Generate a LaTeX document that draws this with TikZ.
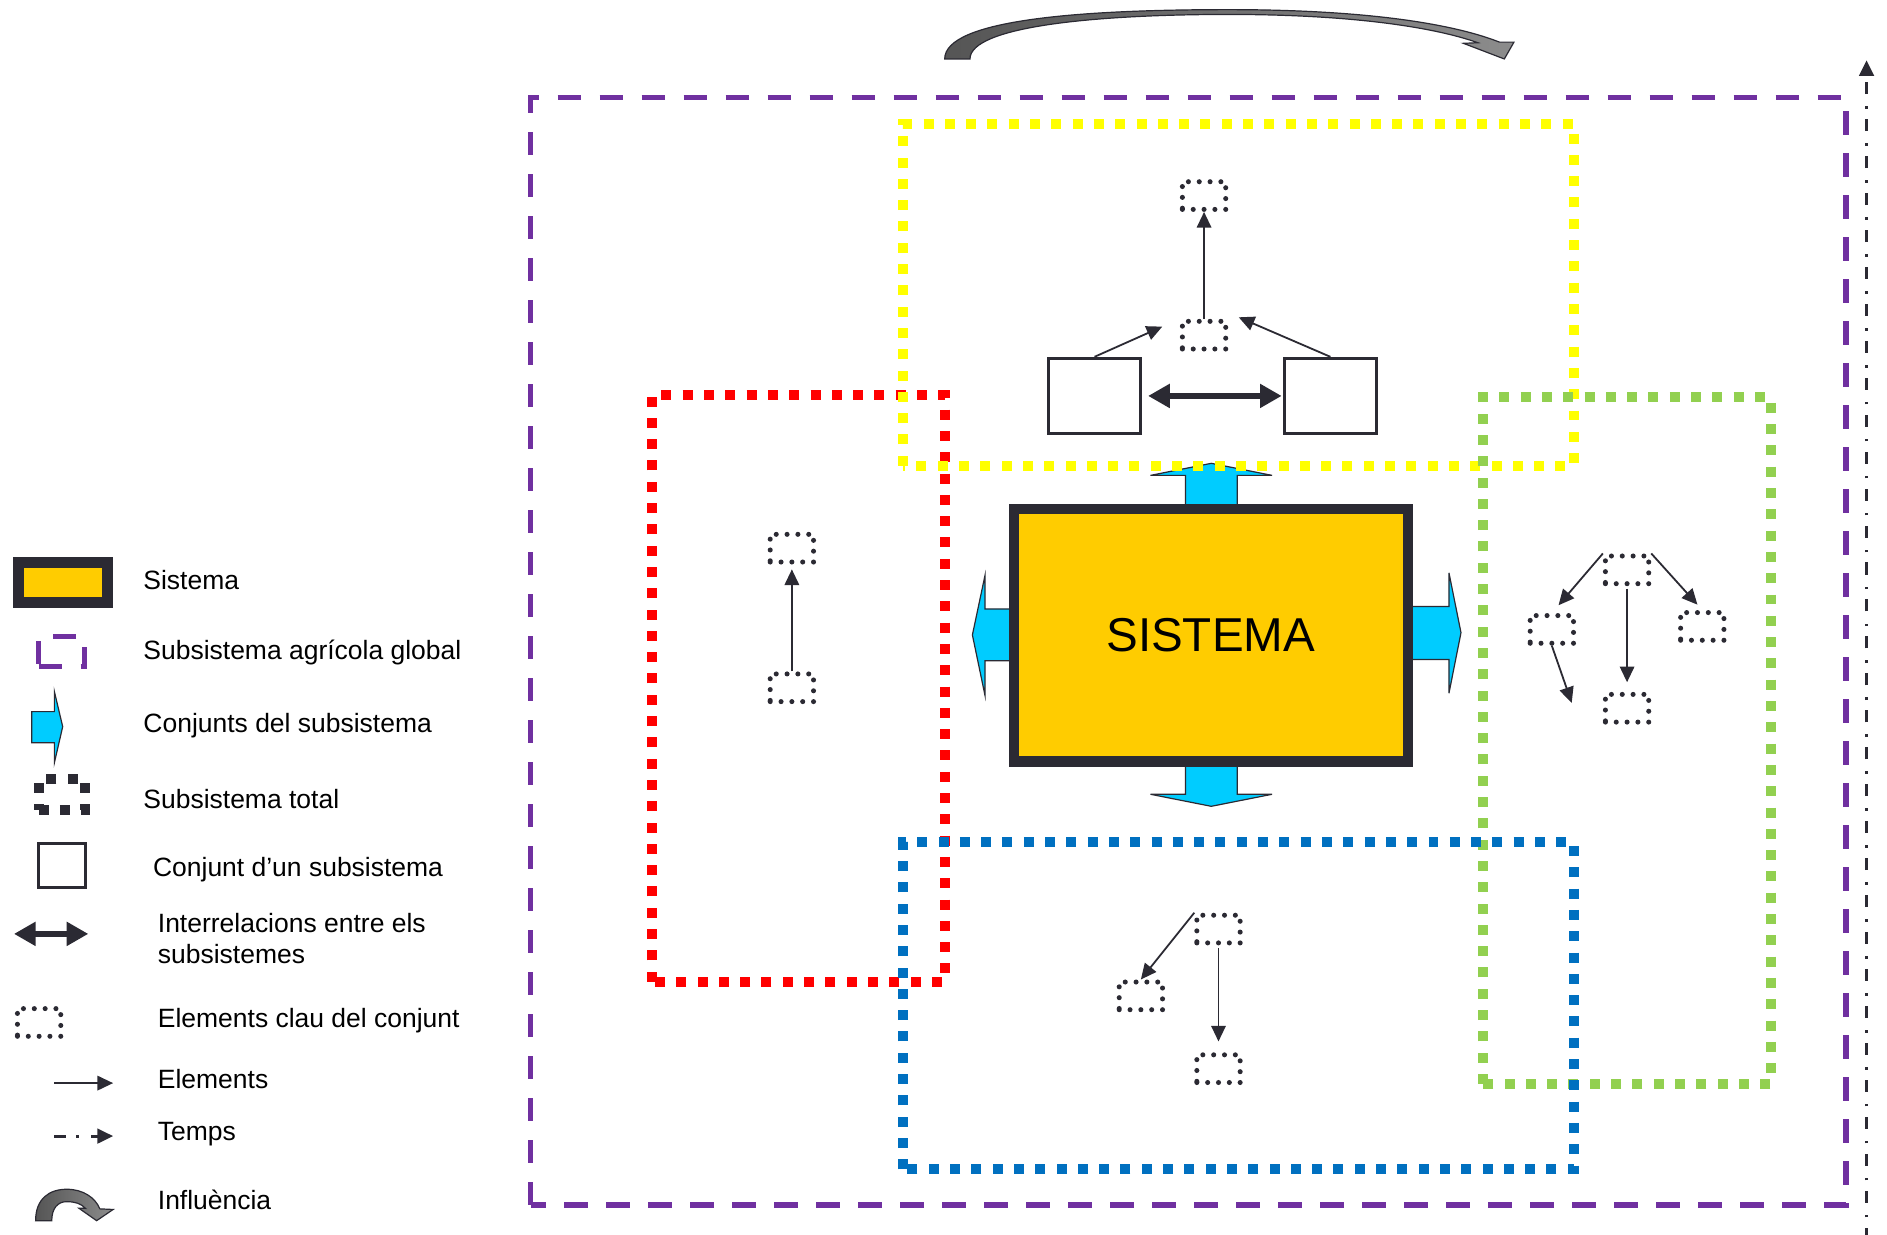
\documentclass[tikz,border=0pt]{standalone}
\usepackage{fontspec}
\setmainfont{Liberation Sans}
\usetikzlibrary{arrows.meta}

\definecolor{sistemagold}{HTML}{FFCC00}
\definecolor{darkline}{HTML}{2B2A33}
\definecolor{globalpurple}{HTML}{7030A0}
\definecolor{conjcyan}{HTML}{00CCFF}
\definecolor{subyellow}{HTML}{FFFF00}
\definecolor{subred}{HTML}{FF0000}
\definecolor{subgreen}{HTML}{92D050}
\definecolor{subblue}{HTML}{0070C0}
\definecolor{infdark}{HTML}{555555}
\definecolor{inflight}{HTML}{8C8C8C}

\begin{document}
\begin{tikzpicture}[
            x=1pt, y=-1pt,
            element/.style={draw=darkline, line width=4.2pt, dash pattern=on 0pt off 9pt, line cap=round, minimum width=36pt, minimum height=23pt, inner sep=0pt},
            conjunt/.style={draw=darkline, line width=2.5pt, minimum width=76.5pt, minimum height=62.5pt, inner sep=0pt},
            sistema/.style={draw=darkline, fill=sistemagold, line width=8.5pt, minimum width=327.5pt, minimum height=209.5pt, inner sep=0pt, font=\fontsize{39.5}{44}\selectfont},
            label_right/.style={anchor=base west, inner sep=0pt, font=\fontsize{22}{26}\selectfont},
            subsist/.style={line width=8.3pt, dash pattern=on 8.3pt off 9.4pt},
            global/.style={draw=globalpurple, line width=4.4pt, dash pattern=on 19.4pt off 15.5pt},
            link/.style={draw=darkline, line width=1.5pt, -{Triangle[length=13pt,width=12pt]}},
            interrel/.style={draw=darkline, line width=5.5pt, {Triangle[length=18pt,width=19pt]}-{Triangle[length=18pt,width=19pt]}},
            temps/.style={draw=darkline, line width=2.6pt, dash pattern=on 10pt off 8.5pt on 2.2pt off 10pt, -{Triangle[length=13pt,width=12pt]}},
            conjunts/.style={fill=conjcyan, draw=darkline, line width=1pt},
            influence/.style={left color=infdark, right color=inflight, draw=darkline, line width=1pt}
        ]
        \useasboundingbox (0,0) rectangle (1568,1025.4);

        % Global agricultural subsystem
        \draw[global] (441,1001.2) rectangle (1534,81.2);

        % Influence and time
        \draw[influence] (785,49) .. controls (785,16) and (900,8) .. (1021,8)
            .. controls (1120,8) and (1200,17) .. (1246,35) -- (1258,35) -- (1250,49) -- (1216,36) -- (1228,35.5)
            .. controls (1190,22) and (1120,12) .. (1021,12)
            .. controls (910,12) and (806,22) .. (806,49) -- cycle;
        \coordinate (time_start) at (1551,1030);
        \coordinate (time_end) at (1551,50);
        \draw[temps] (time_start) -- (time_end);

        % System with its sets
        \draw[conjunts] (985,423) -- (985,395) -- (956,395) -- (1006.5,385) -- (1057,395) -- (1028,395) -- (1028,423) -- cycle;
        \draw[conjunts] (985,633) -- (985,660) -- (956,660) -- (1006.5,670) -- (1057,660) -- (1028,660) -- (1028,633) -- cycle;
        \draw[conjunts] (846,506) -- (818.5,506) -- (818.5,478) -- (808,527.6) -- (818.5,578) -- (818.5,549) -- (846,549) -- cycle;
        \draw[conjunts] (1170,504) -- (1204,504) -- (1204,476) -- (1214,525.7) -- (1204,576) -- (1204,548) -- (1170,548) -- cycle;
        \node[sistema] (sistema) at (1006,528) {SISTEMA};

        % Subsystems
        \draw[subsist, draw=subred] (541.5,815.7) rectangle (785.2,328.2);
        \draw[subsist, draw=subyellow] (750.6,387) rectangle (1308,102.9);
        \draw[subsist, draw=subgreen] (1232.5,900.7) rectangle (1471.3,330);
        \draw[subsist, draw=subblue] (750.6,971.6) rectangle (1307.9,700);

        % Top subsystem
        \node[element] (ey1) at (1000.5,162.5) {};
        \node[element] (ey2) at (1000.5,278.5) {};
        \node[conjunt] (sq1) at (909.5,329) {};
        \node[conjunt] (sq2) at (1105.5,329) {};

        \draw[link] (ey2.north) -- (ey1.south);
        \draw[link, shorten >=16pt] (sq1.north) -- (ey2.north west);
        \draw[link, shorten >=9.5pt] (sq2.north) -- ([yshift=5pt]ey2.north east);
        \draw[interrel, shorten <=5pt, shorten >=1pt] (sq1.east) -- (sq2.west);

        % Left subsystem
        \node[element] (er1) at (658,455.5) {};
        \node[element] (er2) at (658,571.5) {};

        \draw[link, shorten >=4pt] (er2.north) -- (er1.south);

        % Right subsystem
        \node[element] (eg1) at (1352,473.5) {};
        \node[element] (eg2) at (1289.5,523) {};
        \node[element] (eg3) at (1414.5,520.5) {};
        \node[element] (eg4) at (1352,588.5) {};
        \coordinate (eg_free) at (1306,584);

        \draw[link, shorten >=8.5pt] (eg1.north west) -- (eg2.north);
        \draw[link, shorten >=6pt] (eg1.north east) -- (eg3.north);
        \draw[link, shorten <=2pt, shorten >=8pt] (eg1.south) -- (eg4.north);
        \draw[link] (eg2.south) -- (eg_free);

        % Bottom subsystem
        \node[element] (eb1) at (1012.5,772) {};
        \node[element] (eb2) at (948,827.5) {};
        \node[element] (eb3) at (1012.5,888) {};

        \draw[link] (eb1.north west) -- (eb2.north);
        \draw[link, shorten <=2pt, shorten >=9pt] (eb1.south) -- (eb3.north);

        % Legend
        \node[draw=darkline, fill=sistemagold, line width=9pt, minimum width=74pt, minimum height=33pt, inner sep=0pt] (leg_sistema) at (52.5,484) {};
        \node[label_right] (leg_sistema_txt) at (119,490.2) {Sistema};

        \node[global, minimum width=38pt, minimum height=25pt, inner sep=0pt] (leg_global) at (51,541.5) {};
        \node[label_right] (leg_global_txt) at (119,548.4) {Subsistema agrícola global};

        \draw[conjunts] (26.3,591.3) -- (45.2,591.3) -- (45.2,574.7) -- (52.1,603.8) -- (45.2,633.7) -- (45.2,617.1) -- (26.3,617.1) -- cycle;
        \node[label_right] (leg_conjunts_txt) at (119,608.8) {Conjunts del subsistema};

        \node[subsist, draw=darkline, minimum width=38.7pt, minimum height=25.7pt, inner sep=0pt] (leg_total) at (51.5,660.3) {};
        \node[label_right] (leg_total_txt) at (119,671.7) {Subsistema total};

        \node[conjunt, minimum width=39.6pt, minimum height=36.8pt] (leg_conjunt) at (51.5,719) {};
        \node[label_right] (leg_conjunt_txt) at (127,728.4) {Conjunt d’un subsistema};

        \coordinate (leg_interrel_a) at (11.6,776);
        \coordinate (leg_interrel_b) at (73.4,776);
        \draw[interrel] (leg_interrel_a) -- (leg_interrel_b);
        \node[label_right] (leg_interrel_txt) at (131,774.7) {Interrelacions entre els};
        \node[label_right] (leg_interrel_txt2) at (131,800.5) {subsistemes};

        \node[element] (leg_element) at (32.5,849.6) {};
        \node[label_right] (leg_element_txt) at (131,853.6) {Elements clau del conjunt};

        \coordinate (leg_link_a) at (45,900);
        \coordinate (leg_link_b) at (94,900);
        \draw[link] (leg_link_a) -- (leg_link_b);
        \node[label_right] (leg_link_txt) at (131,904.3) {Elements};

        \coordinate (leg_temps_a) at (45,944);
        \coordinate (leg_temps_b) at (94,944);
        \draw[temps] (leg_temps_a) -- (leg_temps_b);
        \node[label_right] (leg_temps_txt) at (131,947.3) {Temps};

        \draw[influence] (29.6,1014.3) .. controls (29.6,996) and (41,988.2) .. (55.4,988.2)
            .. controls (69,988.2) and (79,995) .. (83,1004.5) -- (94,1005) -- (80.3,1014.3) -- (65.6,1004) -- (71,1004.1)
            .. controls (67.5,1000) and (62,998.5) .. (55.4,998.5)
            .. controls (48,998.5) and (43,1004) .. (43,1014.3) -- cycle;
        \node[label_right] (leg_influence_txt) at (131,1004.8) {Influència};

    \end{tikzpicture}
\end{document}
